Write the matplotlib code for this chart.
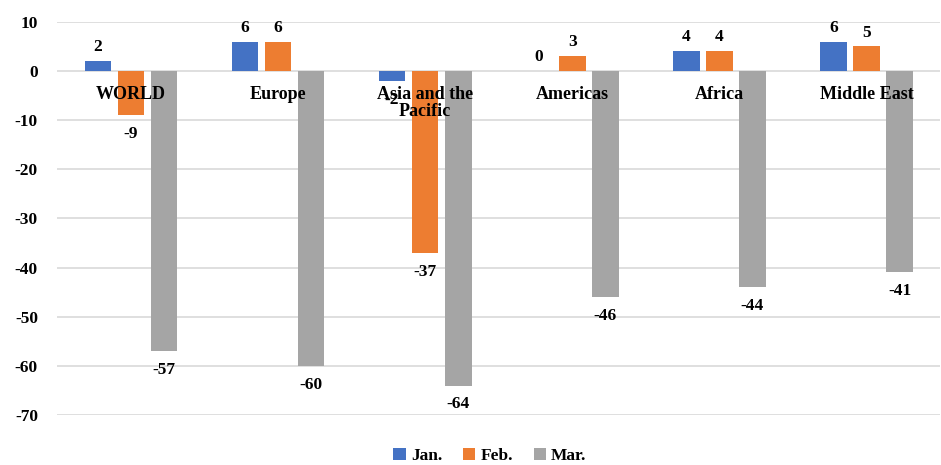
import matplotlib.pyplot as plt
import numpy as np

plt.rcParams['font.family'] = ['Liberation Serif', 'DejaVu Serif']
plt.rcParams['font.weight'] = 'bold'
plt.rcParams['axes.unicode_minus'] = False

regions = ["WORLD", "Europe", "Asia and the\nPacific", "Americas", "Africa", "Middle East"]
jan = [2, 6, -2, 0, 4, 6]
feb = [-9, 6, -37, 3, 4, 5]
mar = [-57, -60, -64, -46, -44, -41]
months = ["Jan.", "Feb.", "Mar."]
colors = ["#4472C4", "#ED7D31", "#A5A5A5"]

fig = plt.figure(figsize=(9.41, 4.65), dpi=100)
ax = fig.add_axes([0.061, 0.1075, 0.938, 0.8455])

x = np.arange(len(regions))
w = 0.18
step = 0.225
for i, (vals, name, c) in enumerate(zip([jan, feb, mar], months, colors)):
    pos = x + (i - 1) * step
    ax.bar(pos, vals, w, color=c, label=name, zorder=2)
    for p, v in zip(pos, vals):
        if v >= 0:
            ax.text(p, v + 1.2, str(v), ha='center', va='bottom', fontsize=12.5, fontweight='bold', zorder=4)
        else:
            ax.text(p, v - 2.2, str(v), ha='center', va='top', fontsize=12.5, fontweight='bold', zorder=4)

for xi, r in zip(x, regions):
    ax.text(xi, -3.0, r, ha='center', va='top', fontsize=13, fontweight='bold', zorder=3,
            linespacing=1.0)

ax.set_xlim(-0.5, len(regions) - 0.5)
ax.set_ylim(-70, 10)
ax.set_yticks(np.arange(-70, 11, 10))
ax.set_xticks([])
ax.tick_params(axis='y', length=0, labelsize=12.5, pad=14)
for lbl in ax.get_yticklabels():
    lbl.set_fontweight('bold')
ax.grid(axis='y', color='#D9D9D9', linewidth=1.2, zorder=0)
for s in ax.spines.values():
    s.set_visible(False)

ax.legend(loc='upper center', bbox_to_anchor=(0.49, -0.045), ncol=3, frameon=False,
          fontsize=12.5, handlelength=0.7, handleheight=0.7, handletextpad=0.3, columnspacing=1.2)

fig.savefig("out.png", dpi=100)
